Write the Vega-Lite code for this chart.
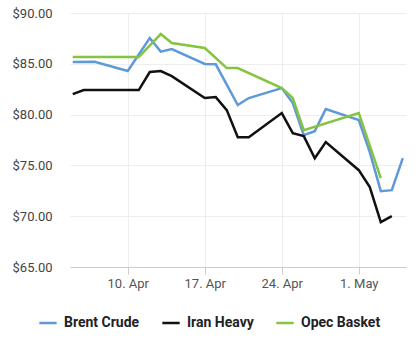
{
  "$schema": "https://vega.github.io/schema/vega-lite/v6.json",
  "autosize": "none",
  "width": 336,
  "height": 254,
  "padding": {"left": 70, "top": 13, "right": 12, "bottom": 85},
  "background": "white",
  "config": {
    "view": {"stroke": null},
    "font": "Roboto"
  },
  "data": {
    "values": [
      {"date": "2023-04-05", "series": "Brent Crude", "price": 85.17},
      {"date": "2023-04-07", "series": "Brent Crude", "price": 85.2},
      {"date": "2023-04-10", "series": "Brent Crude", "price": 84.29},
      {"date": "2023-04-12", "series": "Brent Crude", "price": 87.54},
      {"date": "2023-04-13", "series": "Brent Crude", "price": 86.2},
      {"date": "2023-04-14", "series": "Brent Crude", "price": 86.45},
      {"date": "2023-04-17", "series": "Brent Crude", "price": 84.98},
      {"date": "2023-04-18", "series": "Brent Crude", "price": 84.95},
      {"date": "2023-04-20", "series": "Brent Crude", "price": 80.94},
      {"date": "2023-04-21", "series": "Brent Crude", "price": 81.63},
      {"date": "2023-04-24", "series": "Brent Crude", "price": 82.61},
      {"date": "2023-04-25", "series": "Brent Crude", "price": 81.13},
      {"date": "2023-04-26", "series": "Brent Crude", "price": 77.98},
      {"date": "2023-04-27", "series": "Brent Crude", "price": 78.37},
      {"date": "2023-04-28", "series": "Brent Crude", "price": 80.54},
      {"date": "2023-05-01", "series": "Brent Crude", "price": 79.46},
      {"date": "2023-05-02", "series": "Brent Crude", "price": 76.3},
      {"date": "2023-05-03", "series": "Brent Crude", "price": 72.46},
      {"date": "2023-05-04", "series": "Brent Crude", "price": 72.56},
      {"date": "2023-05-05", "series": "Brent Crude", "price": 75.71},

      {"date": "2023-04-05", "series": "Iran Heavy", "price": 82.02},
      {"date": "2023-04-06", "series": "Iran Heavy", "price": 82.41},
      {"date": "2023-04-11", "series": "Iran Heavy", "price": 82.41},
      {"date": "2023-04-12", "series": "Iran Heavy", "price": 84.19},
      {"date": "2023-04-13", "series": "Iran Heavy", "price": 84.29},
      {"date": "2023-04-14", "series": "Iran Heavy", "price": 83.79},
      {"date": "2023-04-17", "series": "Iran Heavy", "price": 81.63},
      {"date": "2023-04-18", "series": "Iran Heavy", "price": 81.72},
      {"date": "2023-04-19", "series": "Iran Heavy", "price": 80.44},
      {"date": "2023-04-20", "series": "Iran Heavy", "price": 77.78},
      {"date": "2023-04-21", "series": "Iran Heavy", "price": 77.78},
      {"date": "2023-04-24", "series": "Iran Heavy", "price": 80.15},
      {"date": "2023-04-25", "series": "Iran Heavy", "price": 78.18},
      {"date": "2023-04-26", "series": "Iran Heavy", "price": 77.88},
      {"date": "2023-04-27", "series": "Iran Heavy", "price": 75.71},
      {"date": "2023-04-28", "series": "Iran Heavy", "price": 77.29},
      {"date": "2023-05-01", "series": "Iran Heavy", "price": 74.53},
      {"date": "2023-05-02", "series": "Iran Heavy", "price": 72.86},
      {"date": "2023-05-03", "series": "Iran Heavy", "price": 69.41},
      {"date": "2023-05-04", "series": "Iran Heavy", "price": 70.0},

      {"date": "2023-04-05", "series": "Opec Basket", "price": 85.67},
      {"date": "2023-04-11", "series": "Opec Basket", "price": 85.67},
      {"date": "2023-04-13", "series": "Opec Basket", "price": 87.93},
      {"date": "2023-04-14", "series": "Opec Basket", "price": 87.04},
      {"date": "2023-04-17", "series": "Opec Basket", "price": 86.55},
      {"date": "2023-04-18", "series": "Opec Basket", "price": 85.57},
      {"date": "2023-04-19", "series": "Opec Basket", "price": 84.58},
      {"date": "2023-04-20", "series": "Opec Basket", "price": 84.58},
      {"date": "2023-04-24", "series": "Opec Basket", "price": 82.61},
      {"date": "2023-04-25", "series": "Opec Basket", "price": 81.63},
      {"date": "2023-04-26", "series": "Opec Basket", "price": 78.47},
      {"date": "2023-05-01", "series": "Opec Basket", "price": 80.15},
      {"date": "2023-05-03", "series": "Opec Basket", "price": 73.74}
    ]
  },
  "mark": {"type": "line", "strokeWidth": 2.5, "strokeJoin": "miter", "clip": true},
  "encoding": {
    "x": {
      "field": "date",
      "type": "temporal",
      "scale": {
        "type": "utc",
        "domain": [
          {"year": 2023, "month": 4, "date": 4, "hours": 18, "utc": true},
          {"year": 2023, "month": 5, "date": 5, "hours": 7, "utc": true}
        ]
      },
      "axis": {
        "title": null,
        "values": [
          {"year": 2023, "month": 4, "date": 10, "utc": true},
          {"year": 2023, "month": 4, "date": 17, "utc": true},
          {"year": 2023, "month": 4, "date": 24, "utc": true},
          {"year": 2023, "month": 5, "date": 1, "utc": true}
        ],
        "labelExpr": "utcFormat(datum.value, '%-d. %b')",
        "labelFontSize": 13,
        "labelColor": "#555555",
        "labelPadding": 3,
        "domainColor": "#cccccc",
        "tickColor": "#cccccc",
        "tickSize": 7,
        "grid": true,
        "gridColor": "#eeeeee"
      }
    },
    "y": {
      "field": "price",
      "type": "quantitative",
      "scale": {"domain": [65, 90], "nice": false, "zero": false},
      "axis": {
        "title": null,
        "values": [65, 70, 75, 80, 85, 90],
        "format": "$.2f",
        "labelFontSize": 13,
        "labelColor": "#444444",
        "labelPadding": 18,
        "domain": false,
        "ticks": false,
        "grid": true,
        "gridColor": "#eeeeee"
      }
    },
    "color": {
      "field": "series",
      "type": "nominal",
      "scale": {
        "domain": ["Brent Crude", "Iran Heavy", "Opec Basket"],
        "range": ["#5f9ad8", "#111111", "#85c441"]
      },
      "legend": {
        "title": null,
        "orient": "none",
        "legendX": -32,
        "legendY": 300,
        "direction": "horizontal",
        "symbolType": "stroke",
        "symbolSize": 300,
        "symbolStrokeWidth": 2.5,
        "labelFontSize": 14,
        "labelFontWeight": "bold",
        "labelColor": "#222222",
        "labelOffset": 6,
        "columnPadding": 17
      }
    }
  }
}
